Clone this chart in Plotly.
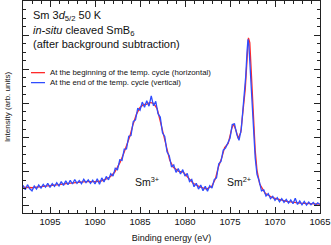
import plotly.graph_objects as go

# Red curve: beginning of temperature cycle (horizontal)
red_energy = [1098.0, 1097.0, 1096.0, 1095.0, 1094.0, 1093.0, 1092.0, 1091.0, 1090.0, 1089.4,
              1088.8, 1088.3, 1087.8, 1087.2, 1086.8, 1086.5, 1086.1, 1085.8, 1085.4, 1085.0,
              1084.6, 1084.3, 1083.9, 1083.5, 1083.1, 1082.8, 1082.4, 1082.0, 1081.7, 1081.3,
              1080.7, 1080.2, 1079.8, 1079.1, 1078.3, 1077.6, 1077.0, 1076.6, 1076.3, 1075.9,
              1075.6, 1075.2, 1074.8, 1074.6, 1074.3, 1074.1, 1073.8, 1073.6, 1073.3, 1073.1,
              1072.95, 1072.8, 1072.6, 1072.4, 1072.2, 1072.0, 1071.7, 1071.1, 1070.2, 1068.7,
              1067.2, 1065.0]
red_intensity = [0.55, 0.53, 0.56, 0.58, 0.62, 0.66, 0.69, 0.71, 0.71, 0.72,
                 0.78, 0.85, 0.99, 1.28, 1.54, 1.74, 2.06, 2.36, 2.68, 2.88,
                 2.97, 2.97, 3.03, 3.00, 2.85, 2.53, 2.12, 1.66, 1.34, 1.13,
                 1.01, 0.99, 0.88, 0.66, 0.55, 0.49, 0.58, 0.81, 1.13, 1.42,
                 1.71, 1.83, 2.27, 2.40, 2.18, 1.98, 2.15, 2.68, 3.43, 4.31,
                 4.92, 4.78, 3.61, 2.50, 1.63, 1.04, 0.64, 0.37, 0.23, 0.13,
                 0.08, 0.05]

# Blue curve: end of temperature cycle (vertical)
blue_energy = [1098.0, 1097.75, 1097.5, 1097.25, 1097.0, 1096.75, 1096.5, 1096.25, 1096.0, 1095.75,
               1095.5, 1095.25, 1095.0, 1094.75, 1094.5, 1094.25, 1094.0, 1093.75, 1093.5, 1093.25,
               1093.0, 1092.75, 1092.5, 1092.25, 1092.0, 1091.75, 1091.5, 1091.25, 1091.0, 1090.75,
               1090.5, 1090.25, 1090.0, 1089.75, 1089.5, 1089.25, 1089.0, 1088.75, 1088.5, 1088.25,
               1088.0, 1087.75, 1087.5, 1087.25, 1087.0, 1086.75, 1086.5, 1086.25, 1086.0, 1085.75,
               1085.5, 1085.25, 1085.0, 1084.75, 1084.5, 1084.25, 1084.0, 1083.75, 1083.5, 1083.25,
               1083.0, 1082.75, 1082.5, 1082.25, 1082.0, 1081.75, 1081.5, 1081.25, 1081.0, 1080.75,
               1080.5, 1080.25, 1080.0, 1079.75, 1079.5, 1079.25, 1079.0, 1078.75, 1078.5, 1078.25,
               1078.0, 1077.75, 1077.5, 1077.25, 1077.0, 1076.75, 1076.5, 1076.25, 1076.0, 1075.75,
               1075.5, 1075.25, 1075.0, 1074.75, 1074.5, 1074.25, 1074.0, 1073.75, 1073.5, 1073.25,
               1073.1, 1073.0, 1072.9, 1072.8, 1072.6, 1072.4, 1072.2, 1072.0, 1071.75, 1071.5,
               1071.25, 1071.0, 1070.75, 1070.5, 1070.25, 1070.0, 1069.75, 1069.5, 1069.25, 1069.0,
               1068.75, 1068.5, 1068.25, 1068.0, 1067.75, 1067.5, 1067.25, 1067.0, 1066.75, 1066.5,
               1066.25, 1066.0, 1065.75, 1065.5, 1065.25, 1065.0]
blue_intensity = [0.60, 0.47, 0.62, 0.50, 0.44, 0.58, 0.49, 0.61, 0.52, 0.63,
                  0.55, 0.66, 0.54, 0.65, 0.57, 0.68, 0.58, 0.71, 0.60, 0.73,
                  0.62, 0.75, 0.64, 0.77, 0.66, 0.74, 0.65, 0.78, 0.68, 0.76,
                  0.66, 0.75, 0.64, 0.79, 0.63, 0.82, 0.70, 0.86, 0.76, 0.94,
                  0.87, 1.10, 1.06, 1.35, 1.33, 1.66, 1.67, 2.04, 2.06, 2.47,
                  2.52, 2.86, 2.80, 3.04, 2.89, 3.08, 2.92, 3.22, 2.93, 3.06,
                  2.70, 2.60, 2.14, 2.03, 1.58, 1.47, 1.14, 1.20, 0.98, 1.09,
                  0.93, 1.06, 0.87, 0.95, 0.71, 0.77, 0.56, 0.66, 0.49, 0.61,
                  0.44, 0.57, 0.43, 0.59, 0.52, 0.77, 0.82, 1.23, 1.30, 1.63,
                  1.69, 1.85, 1.98, 2.38, 2.40, 2.10, 1.92, 2.24, 2.95, 3.80,
                  4.55, 4.88, 4.70, 4.20, 3.20, 2.20, 1.40, 0.92, 0.72, 0.44,
                  0.47, 0.29, 0.36, 0.21, 0.28, 0.16, 0.24, 0.12, 0.21, 0.10,
                  0.19, 0.08, 0.17, 0.06, 0.22, 0.04, 0.14, 0.03, 0.13, 0.02,
                  0.11, 0.03, 0.10, 0.02, 0.09, 0.04]

red_name = "At the beginning of the temp. cycle (horizontal)"
blue_name = "At the end of the temp. cycle (vertical)"
RED = "#ff2a2a"
BLUE = "#2f4dff"

FONT = "Liberation Sans, Arial, sans-serif"

fig = go.Figure()
fig.add_trace(go.Scatter(x=red_energy, y=red_intensity, mode="lines", name=red_name,
                         line=dict(color=RED, width=1.3)))
fig.add_trace(go.Scatter(x=blue_energy, y=blue_intensity, mode="lines", name=blue_name,
                         line=dict(color=BLUE, width=1.3)))

axis_common = dict(showline=True, linecolor="#222", linewidth=1, mirror="allticks",
                   ticks="inside", tickcolor="#222", showgrid=False, zeroline=False,
                   automargin=False)

fig.update_xaxes(range=[1098, 1065], dtick=5, tick0=1065, ticklen=6, tickwidth=1,
                 minor=dict(ticks="inside", dtick=1, ticklen=3, tickcolor="#222"),
                 tickfont=dict(family=FONT, size=9.5, color="#111"),
                 title=dict(text="Binding energy (eV)", font=dict(family=FONT, size=9, color="#111"),
                            standoff=8),
                 **axis_common)
fig.update_yaxes(range=[-0.21, 6.0], dtick=1, tick0=0, ticklen=6, tickwidth=1,
                 showticklabels=False,
                 minor=dict(ticks="inside", dtick=0.25, ticklen=3, tickcolor="#222"),
                 title=dict(text="Intensity (arb. units)", font=dict(family=FONT, size=8, color="#111"),
                            standoff=10),
                 **axis_common)

ann = [
    dict(text="Sm 3<i>d</i><sub>5/2</sub> 50 K", x=0.027, y=0.93),
    dict(text="<i>in-situ</i> cleaved SmB<sub>6</sub>", x=0.027, y=0.86),
    dict(text="(after background subtraction)", x=0.027, y=0.797),
]
for a in ann:
    fig.add_annotation(text=a["text"], x=a["x"], y=a["y"], xref="paper", yref="paper",
                       xanchor="left", yanchor="middle", showarrow=False,
                       font=dict(family=FONT, size=11, color="#111"))

# legend drawn as short key lines + text
legend_rows = [(red_name, RED, 0.662), (blue_name, BLUE, 0.615)]
for name, col, yy in legend_rows:
    fig.add_shape(type="line", xref="paper", yref="paper", x0=0.027, x1=0.074, y0=yy, y1=yy,
                  line=dict(color=col, width=1.3))
    fig.add_annotation(text=name, x=0.084, y=yy, xref="paper", yref="paper",
                       xanchor="left", yanchor="middle", showarrow=False,
                       font=dict(family=FONT, size=7.8, color="#111"))

fig.add_annotation(text="Sm<sup>3+</sup>", x=1084.2, y=0.72, xref="x", yref="y",
                   showarrow=False, font=dict(family=FONT, size=10.5, color="#111"))
fig.add_annotation(text="Sm<sup>2+</sup>", x=1074.0, y=0.72, xref="x", yref="y",
                   showarrow=False, font=dict(family=FONT, size=10.5, color="#111"))

fig.update_layout(
    width=331, height=245,
    margin=dict(l=23, r=11, t=1, b=32, autoexpand=False),
    paper_bgcolor="white", plot_bgcolor="white",
    showlegend=False,
)

fig.write_html("out.html",
               config={"displayModeBar": False},
               post_script="document.body.style.margin='0px';document.body.style.padding='0px';"
                           "document.body.style.overflow='hidden';")
